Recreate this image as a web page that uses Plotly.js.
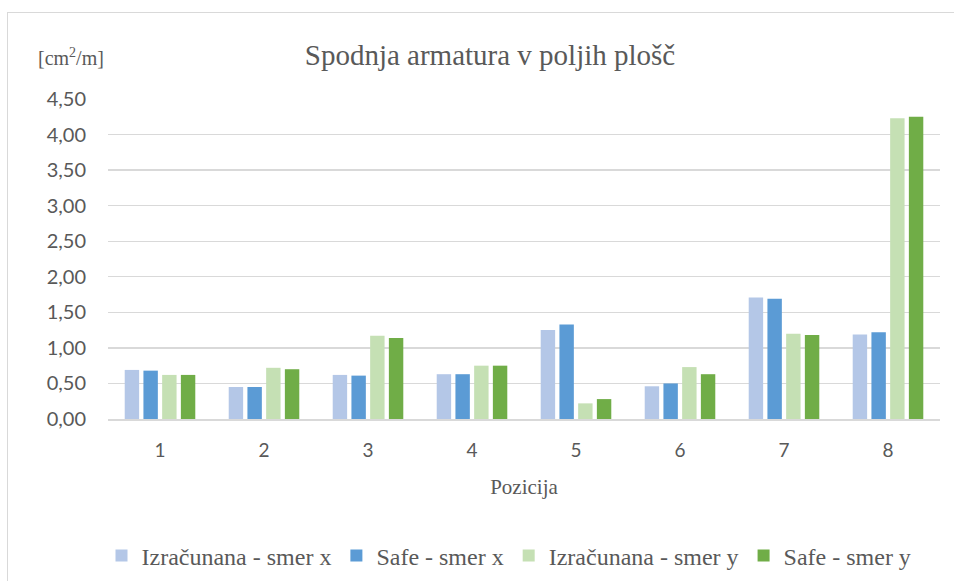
<!DOCTYPE html>
<html>
<head>
<meta charset="utf-8">
<script src="https://cdn.plot.ly/plotly-3.0.1.min.js"></script>
<style>
  html, body { margin: 0; padding: 0; background: #fff; }
  #wrap { position: relative; width: 954px; height: 581px; overflow: hidden; }
  #chart { position: absolute; left: 0; top: 0; width: 954px; height: 581px; }
  #frame { position: absolute; left: 7px; top: 12px; width: 980px; height: 620px; border: 1px solid #d9d9d9; pointer-events: none; }
</style>
</head>
<body>
<div id="wrap"><div id="chart"></div><div id="frame"></div></div>
<script>
const categories = ['1', '2', '3', '4', '5', '6', '7', '8'];
const seriesNames = ['Izračunana - smer x', 'Safe - smer x', 'Izračunana - smer y', 'Safe - smer y'];
const izracunanaX = [0.69, 0.45, 0.62, 0.63, 1.25, 0.46, 1.71, 1.19];
const safeX       = [0.68, 0.45, 0.61, 0.63, 1.33, 0.50, 1.69, 1.22];
const izracunanaY = [0.62, 0.72, 1.17, 0.75, 0.22, 0.73, 1.20, 4.23];
const safeY       = [0.62, 0.70, 1.14, 0.75, 0.28, 0.63, 1.18, 4.25];
const colors = ['#B4C7E7', '#5B9BD5', '#C5E0B4', '#70AD47'];
const yTicks = [0, 0.5, 1, 1.5, 2, 2.5, 3, 3.5, 4, 4.5];

const values = [izracunanaX, safeX, izracunanaY, safeY];
const traces = values.map((v, i) => ({
  type: 'bar',
  name: seriesNames[i],
  x: categories,
  y: v,
  marker: { color: colors[i], line: { width: 0 } },
  hoverinfo: 'x+y+name'
}));

const grey = '#595959';
const layout = {
  width: 954, height: 581,
  margin: { l: 108, r: 14, t: 99, b: 162, pad: 0 },
  paper_bgcolor: 'rgba(0,0,0,0)',
  plot_bgcolor: '#fff',
  separators: ',.',
  barmode: 'group',
  bargap: 0.28,
  bargroupgap: 0.23,
  title: {
    text: 'Spodnja armatura v poljih plošč',
    font: { family: 'Liberation Serif', size: 29, color: grey },
    x: 490 / 954, xanchor: 'center', xref: 'container',
    y: 1 - 55 / 581, yanchor: 'middle', yref: 'container'
  },
  xaxis: {
    type: 'category',
    tickfont: { family: 'Lato', size: 19, color: grey },
    ticks: '', showgrid: false, zeroline: false,
    showline: true, linecolor: '#d9d9d9', linewidth: 1.5,
    ticklabelstandoff: 14,
    title: { text: 'Pozicija', font: { family: 'Liberation Serif', size: 21, color: grey }, standoff: 19 }
  },
  yaxis: {
    range: [0, 4.5],
    tickvals: yTicks,
    tickformat: '.2f',
    tickfont: { family: 'Lato', size: 20, color: grey },
    ticks: '', showline: false, zeroline: false,
    gridcolor: '#d9d9d9', gridwidth: 1.3,
    ticklabelstandoff: 21
  },
  legend: {
    orientation: 'h',
    x: 509 / 954, xanchor: 'center', xref: 'container',
    y: 1 - 556 / 581, yanchor: 'middle', yref: 'container',
    font: { family: 'Liberation Serif', size: 24, color: grey },
    itemwidth: 30,
    traceorder: 'normal'
  },
  annotations: [{
    text: '[cm<sup>2</sup>/m]',
    xref: 'paper', yref: 'paper',
    x: (71 - 108) / 832, y: (419 - 57) / 320,
    xanchor: 'center', yanchor: 'middle',
    showarrow: false,
    font: { family: 'Liberation Serif', size: 20, color: grey }
  }],
  showlegend: true
};

Plotly.newPlot('chart', traces, layout, { displayModeBar: false, staticPlot: true });
</script>
</body>
</html>
